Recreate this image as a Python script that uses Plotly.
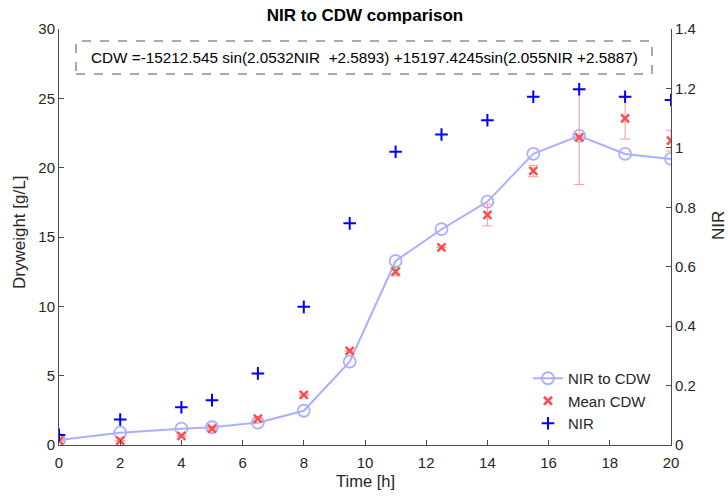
import plotly.graph_objects as go

time_h = [0, 2, 4, 5, 6.5, 8, 9.5, 11, 12.5, 14, 15.5, 17, 18.5, 20]
nir_to_cdw = [0.36, 0.89, 1.18, 1.28, 1.61, 2.47, 6.01, 13.27, 15.56, 17.55, 21.0, 22.29, 20.99, 20.63]
mean_cdw = [0.31, 0.31, 0.65, 1.18, 1.90, 3.61, 6.78, 12.5, 14.26, 16.59, 19.76, 22.19, 23.56, 21.95]
cdw_err = [0.0, 0.0, 0.0, 0.0, 0.0, 0.0, 0.0, 0.3, 0.0, 0.78, 0.41, 3.41, 1.5, 0.75]
nir = [0.034, 0.086, 0.127, 0.151, 0.241, 0.465, 0.746, 0.987, 1.045, 1.093, 1.172, 1.197, 1.172, 1.161]

x_ticks = list(range(0, 21, 2))
y_left_ticks = [0, 5, 10, 15, 20, 25, 30]
y_right_ticks = [0, 0.2, 0.4, 0.6, 0.8, 1.0, 1.2, 1.4]
y_right_labels = ["0", "0.2", "0.4", "0.6", "0.8", "1", "1.2", "1.4"]

title_text = "NIR to CDW comparison"
x_label = "Time [h]"
y_label = "Dryweight [g/L]"
y2_label = "NIR"
eq_text = "CDW =-15212.545 sin(2.0532NIR\u00a0 +2.5893) +15197.4245sin(2.055NIR +2.5887)"

FONT = "Liberation Sans, Arial, Helvetica, sans-serif"
TXT = "#262626"
AX = "#4d4d4d"
W, H = 728, 499
L, R, T, B = 59, 671, 29, 445  # plot area in pixels


def px(xp):
    return (xp - L) / (R - L)


def py(yp):
    return (B - yp) / (B - T)


fig = go.Figure()

fig.add_trace(go.Scatter(
    x=time_h, y=nir_to_cdw, name="NIR to CDW", mode="lines+markers",
    line=dict(color="#aab0ff", width=2),
    marker=dict(symbol="circle-open", size=12, color="#aab0ff", line=dict(width=1.8, color="#aab0ff")),
    yaxis="y",
))
fig.add_trace(go.Scatter(
    x=time_h, y=mean_cdw, name="Mean CDW", mode="markers",
    marker=dict(symbol="x-thin-open", size=8, color="#ff4d4d", line=dict(width=2.5, color="#ff4d4d")),
    error_y=dict(type="data", array=cdw_err, visible=True, color="#ff9999", thickness=1, width=5),
    yaxis="y",
))
fig.add_trace(go.Scatter(
    x=time_h, y=nir, name="NIR", mode="markers",
    marker=dict(symbol="cross-thin-open", size=9, color="#0000ff", line=dict(width=2, color="#0000ff")),
    yaxis="y2",
))

common = dict(ticks="inside", ticklen=5, tickcolor=AX, showline=True, linecolor=AX, linewidth=1,
              showgrid=False, zeroline=False, automargin=False, tickfont=dict(size=15, color=TXT))

fig.update_layout(
    width=W, height=H,
    margin=dict(l=L, r=W - R, t=T, b=H - B, autoexpand=False),
    paper_bgcolor="white", plot_bgcolor="white",
    font=dict(family=FONT, size=15, color=TXT),
    showlegend=True,
    title=dict(text="<b>" + title_text + "</b>", x=(L + R) / 2 / W, xanchor="center",
               y=1 - 15 / H, yanchor="middle", font=dict(size=17, color="#000000")),
    xaxis=dict(range=[0, 20], tickvals=x_ticks, ticklabelstandoff=4, **common),
    yaxis=dict(range=[0, 30], tickvals=y_left_ticks, **common),
    yaxis2=dict(range=[0, 1.4], tickvals=y_right_ticks, ticktext=y_right_labels,
                overlaying="y", side="right", **common),
    legend=dict(
        x=px(528), y=py(362), xanchor="left", yanchor="top",
        bgcolor="rgba(255,255,255,0)", borderwidth=0,
        font=dict(size=15, color=TXT), tracegroupgap=0, itemwidth=30,
    ),
)

# axis labels as positioned text
fig.add_annotation(text=x_label, xref="paper", yref="paper", x=px((L + R) / 2), y=py(481),
                   xanchor="center", yanchor="middle", showarrow=False,
                   font=dict(size=16.5, color=TXT))
fig.add_annotation(text=y_label, xref="paper", yref="paper", x=px(19), y=py(233),
                   xanchor="center", yanchor="middle", showarrow=False, textangle=-90,
                   font=dict(size=17, color=TXT))
fig.add_annotation(text=y2_label, xref="paper", yref="paper", x=px(718), y=py(226),
                   xanchor="center", yanchor="middle", showarrow=False, textangle=-90,
                   font=dict(size=17, color=TXT))

# dashed equation box
x0p, x1p = px(76), px(652)
y0p, y1p = py(74), py(41)
fig.add_shape(type="rect", xref="paper", yref="paper", x0=x0p, x1=x1p, y0=y0p, y1=y1p,
              line=dict(color="#555555", width=1, dash="dash"), fillcolor="rgba(0,0,0,0)")
fig.add_annotation(text=eq_text, xref="paper", yref="paper", x=(x0p + x1p) / 2, y=(y0p + y1p) / 2,
                   xanchor="center", yanchor="middle", showarrow=False,
                   font=dict(size=15.3, color="#000000", family=FONT))

fig.write_html("out.html")
